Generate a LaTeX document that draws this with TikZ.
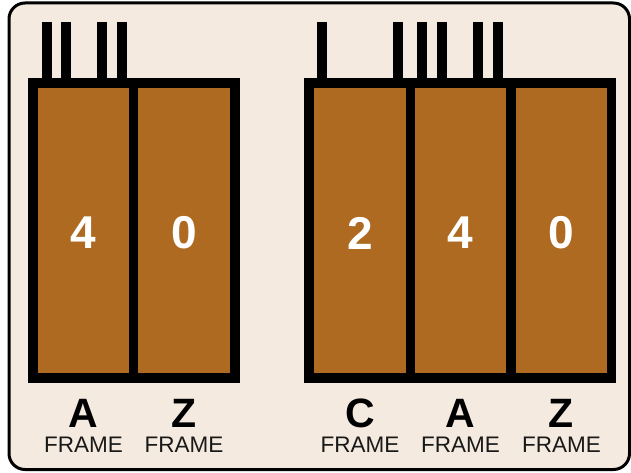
\documentclass[tikz,border=0pt]{standalone}
\usepackage{fontspec}
\setmainfont{Liberation Sans}
\definecolor{paper}{RGB}{244,234,223}
\definecolor{wood}{RGB}{173,106,32}
\tikzset{
	digit/.style={text=white,font=\fontsize{46}{46}\selectfont\bfseries},
	letter/.style={font=\fontsize{41}{41}\selectfont\bfseries},
	caption/.style={text=black!90,font=\fontsize{22.5}{22.5}\selectfont},
}
\begin{document}
\begin{tikzpicture}[x=1pt,y=-1pt]
	\useasboundingbox (0,0) rectangle (631,473);
	\draw [line width = 3pt,rounded corners = 16pt,fill=paper](9,3) rectangle (629.5,469.5);
	% ticks on top of the blocks
	\foreach \x in {47,66,102,122,322,398,422,442,478,498}
		\fill (\x-5,22) rectangle (\x+5,80);
	% left block
	\fill (28,78) rectangle (240,383);
	\fill [wood](38,88) rectangle (129,373);
	\fill [wood](138,88) rectangle (230,373);
	% right block
	\fill (304,78) rectangle (616,383);
	\fill [wood](314,88) rectangle (406,373);
	\fill [wood](415,88) rectangle (506,373);
	\fill [wood](516,88) rectangle (607,373);
	% numbers
	\node [digit] (n1) at (83.5,233) {4};
	\node [digit] (n2) at (184,233) {0};
	\node [digit] (n3) at (360,233) {2};
	\node [digit] (n4) at (460.5,233) {4};
	\node [digit] (n5) at (561.5,233) {0};
	% names under the columns
	\foreach \x/\l [count=\i] in {83.5/A,184/Z,360/C,460.5/A,561.5/Z}{
		\node [letter] (l\i) at (\x,413) {\l};
		\node [caption] (f\i) at (\x,445) {FRAME};
	}
\end{tikzpicture}
\end{document}
